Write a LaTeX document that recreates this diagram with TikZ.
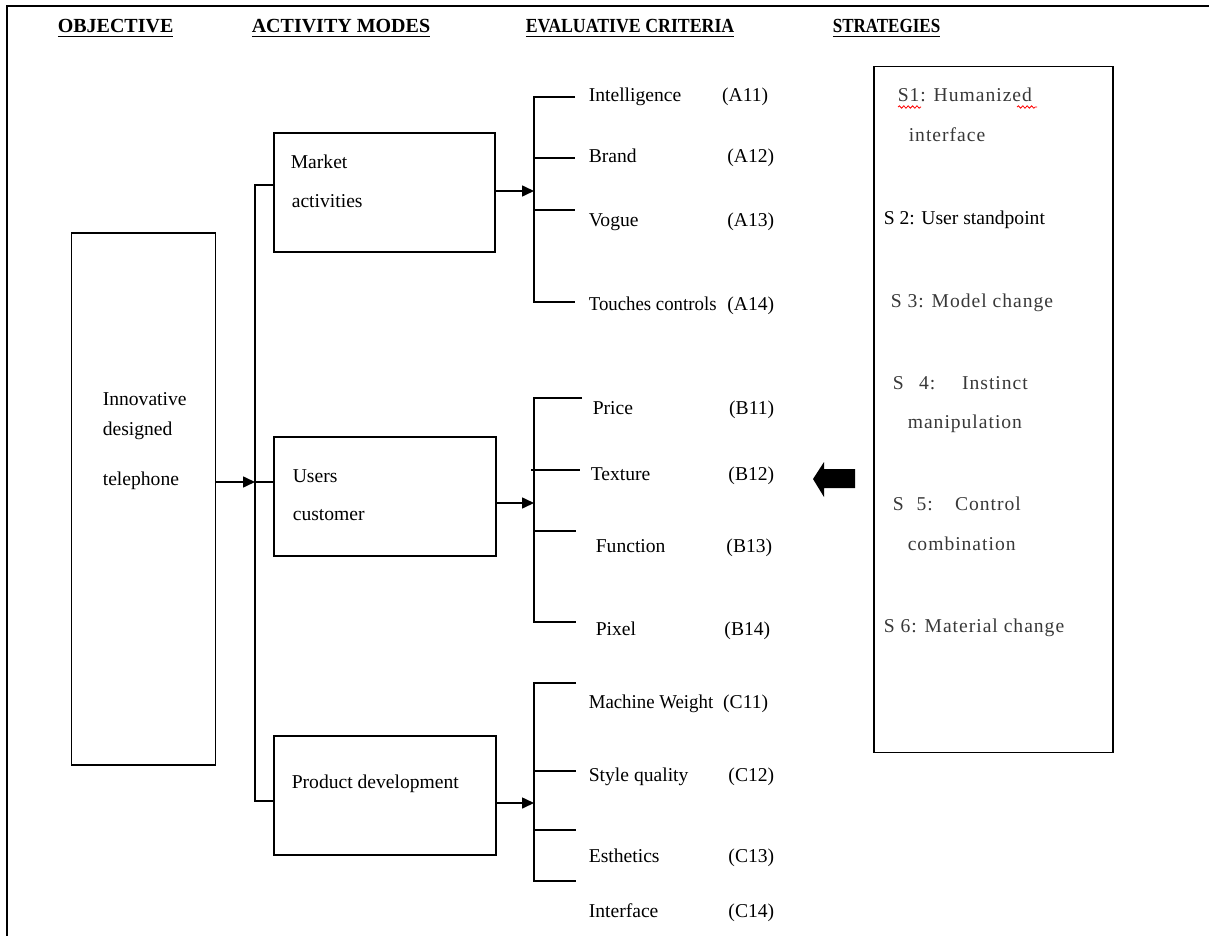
\documentclass[tikz,border=0pt]{standalone}
\usepackage{fontspec}
\setmainfont{Liberation Serif}
\usetikzlibrary{arrows.meta,decorations.pathmorphing}
\begin{document}
\begin{tikzpicture}[x=0.5pt,y=-0.5pt,
  line width=0.8pt,
  box/.style 2 args={draw, line width=0.8pt, inner sep=0,
    minimum width=#1*0.5pt, minimum height=#2*0.5pt},
  lbl/.style={anchor=base west, inner sep=0, font=\fontsize{9.8}{12}\selectfont},
  code/.style={anchor=base east, inner sep=0, font=\fontsize{9.8}{12}\selectfont},
  hdr/.style={anchor=base west, inner sep=0, font=\bfseries\fontsize{10}{12}\selectfont},
  strat/.style={anchor=base west, inner sep=0, text=black!78,
    font=\fontsize{9.8}{12}\selectfont\addfontfeatures{LetterSpace=5}},
  arr/.style={-{Triangle[length=6pt,width=5.5pt]}},
  wavy/.style={draw=red, line width=0.4pt, decorate,
    decoration={snake, amplitude=0.6pt, segment length=2.2pt}}]
\useasboundingbox (0,0) rectangle (1209,936);

% outer frame
\draw (7,936) -- (7,6) -- (1209,6);

% column headings
\node[hdr] (h1) at (57,33)  {\underline{OBJECTIVE}};
\node[hdr] (h2) at (251,33) {\underline{ACTIVITY MODES}};
\node[hdr] (h3) at (525,33) {\underline{\scalebox{0.89}[1]{EVALUATIVE CRITERIA}}};
\node[hdr] (h4) at (832,33) {\underline{\scalebox{0.85}[1]{STRATEGIES}}};

% objective
\node[box={144}{532}] (obj) at (143.5,499) {};
\node[lbl] (o1) at (102,405) {Innovative};
\node[lbl] (o2) at (102,435) {designed};
\node[lbl] (o3) at (102,485) {telephone};

% activity modes
\node[box={221}{119}] (mkt) at (384.5,192.5) {};
\node[lbl] (m1) at (290,169) {Market};
\node[lbl] (m2) at (291,208) {activities};

\node[box={222}{119}] (usr) at (385,496.5) {};
\node[lbl] (u1) at (292,482) {Users};
\node[lbl] (u2) at (292,520) {customer};

\node[box={222}{119}] (prd) at (385,795.5) {};
\node[lbl] (p1) at (291,788) {Product development};

% objective -> activity modes
\coordinate (objout) at (216,482);
\coordinate (busT) at (255,185);
\coordinate (busU) at (255,482);
\coordinate (busB) at (255,801);
\draw[arr] (objout) -- (busU);
\draw (mkt.west |- busT) -- (busT) -- (busB) -- (prd.west |- busB);
\draw (busU) -- (usr.west |- busU);

% criteria group A
\coordinate (aIn) at (534,191);
\draw[arr] (mkt.east |- aIn) -- (aIn);
\draw (575,97) -- (534,97) -- (534,302) -- (575,302);
\draw (534,158) -- (575,158);
\draw (534,210) -- (575,210);
\node[lbl] (a1) at (588,102) {Intelligence};
\node[code] (a1c) at (769,102) {(A11)};
\node[lbl] (a2) at (588,163) {Brand};
\node[code] (a2c) at (775,163) {(A12)};
\node[lbl] (a3) at (588,227) {Vogue};
\node[code] (a3c) at (775,227) {(A13)};
\node[lbl] (a4) at (588,310) {\scalebox{0.96}[1]{Touches controls}};
\node[code] (a4c) at (775,310) {(A14)};

% criteria group B
\coordinate (bIn) at (534,503);
\draw[arr] (usr.east |- bIn) -- (bIn);
\draw (582,398) -- (534,398) -- (534,622) -- (576,622);
\draw (531,470) -- (580,470);
\draw (534,531) -- (576,531);
\node[lbl] (b1) at (592,414) {Price};
\node[code] (b1c) at (775,414) {(B11)};
\node[lbl] (b2) at (590,480) {Texture};
\node[code] (b2c) at (775,480) {(B12)};
\node[lbl] (b3) at (595,552) {Function};
\node[code] (b3c) at (773,552) {(B13)};
\node[lbl] (b4) at (595,635) {Pixel};
\node[code] (b4c) at (771,635) {(B14)};

% criteria group C
\coordinate (cIn) at (534,803);
\draw[arr] (prd.east |- cIn) -- (cIn);
\draw (576,683) -- (534,683) -- (534,881) -- (576,881);
\draw (534,771) -- (576,771);
\draw (534,830) -- (576,830);
\node[lbl] (c1) at (588,708) {\scalebox{0.96}[1]{Machine Weight}};
\node[code] (c1c) at (769,708) {(C11)};
\node[lbl] (c2) at (588,781) {Style quality};
\node[code] (c2c) at (775,781) {(C12)};
\node[lbl] (c3) at (588,862) {Esthetics};
\node[code] (c3c) at (775,862) {(C13)};
\node[lbl] (c4) at (588,917) {Interface};
\node[code] (c4c) at (775,917) {(C14)};

% strategies
\node[box={239}{686}] (str) at (993.5,409.5) {};
\node[strat] (s1) at (897,102) {S1: Humanized};
\node[strat] (s1b) at (908,142) {interface};
\node[lbl] (s2) at (883,225) {S 2: User standpoint};
\node[strat] (s3) at (890,307) {S 3: Model change};
\node[strat] (s4) at (892,389) {\makebox[67.5pt][s]{S 4: Instinct}};
\node[strat] (s4b) at (907,428) {manipulation};
\node[strat] (s5) at (892,510) {\makebox[64pt][s]{S 5: Control}};
\node[strat] (s5b) at (907,550) {combination};
\node[strat] (s6) at (883,632) {S 6: Material change};
\draw[wavy] (898,107) -- (921,107);
\draw[wavy] (1017,107) -- (1037,107);

% block arrow pointing from strategies to criteria
\fill (813,479) -- (824,462) -- (824,469) -- (855,469) -- (855,488)
  -- (824,488) -- (824,497) -- cycle;
\end{tikzpicture}
\end{document}
